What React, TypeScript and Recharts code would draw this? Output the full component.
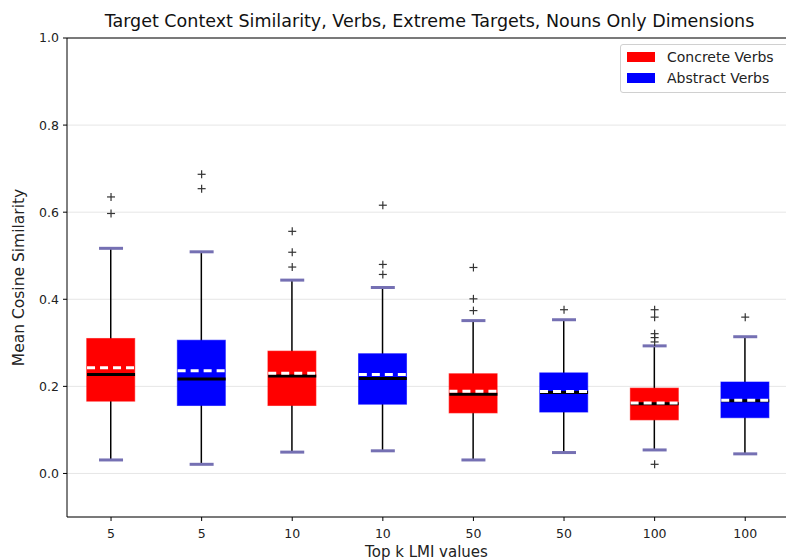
import { ComposedChart, Bar, Scatter, XAxis, YAxis, CartesianGrid, ReferenceLine, Label } from "recharts";

const tickLabels = ["5", "5", "10", "10", "50", "50", "100", "100"];
const seriesNames = ["Concrete Verbs", "Abstract Verbs"];
const seriesColors = ["#ff0000", "#0000ff"];

const whiskerLow = [0.031, 0.021, 0.049, 0.052, 0.031, 0.048, 0.054, 0.045];
const q1 = [0.166, 0.156, 0.156, 0.159, 0.139, 0.141, 0.123, 0.128];
const median = [0.227, 0.217, 0.224, 0.218, 0.182, 0.186, 0.16, 0.167];
const mean = [0.243, 0.236, 0.23, 0.227, 0.189, 0.188, 0.162, 0.168];
const q3 = [0.31, 0.306, 0.281, 0.275, 0.229, 0.231, 0.196, 0.21];
const whiskerHigh = [0.517, 0.509, 0.444, 0.427, 0.351, 0.353, 0.293, 0.314];
const outliers = [
  [0.635, 0.597],
  [0.687, 0.654],
  [0.556, 0.508, 0.474],
  [0.616, 0.48, 0.457],
  [0.473, 0.401, 0.374],
  [0.376],
  [0.376, 0.359, 0.321, 0.312, 0.302, 0.021],
  [0.359],
];

const data = tickLabels.map((_, i) => ({
  x: i,
  lo: whiskerLow[i],
  q1: q1[i],
  med: median[i],
  mean: mean[i],
  q3: q3[i],
  hi: whiskerHigh[i],
  color: seriesColors[i % 2],
}));

const fliers = outliers.flatMap((vals, i) => vals.map((v) => ({ x: i, y: v })));

const FONT = "DejaVu Sans, sans-serif";
const CAP = "#7570b3";

const WhiskerShape = (p: any) => {
  const cx = p.x + p.width / 2;
  return <line x1={cx} x2={cx} y1={p.y} y2={p.y + p.height} stroke="#000" strokeWidth={1.5} />;
};

const BoxShape = (p: any) => (
  <rect x={p.x} y={p.y} width={p.width} height={p.height} fill={p.payload.color} stroke={p.payload.color} strokeOpacity={0.6} strokeWidth={1} />
);

const capShape = (p: any) => (
  <line x1={p.cx - 12} x2={p.cx + 12} y1={p.cy} y2={p.cy} stroke={CAP} strokeWidth={3} />
);

const medianShape = (p: any) => (
  <line x1={p.cx - 24} x2={p.cx + 24} y1={p.cy} y2={p.cy} stroke="#000" strokeWidth={3} />
);

const meanShape = (p: any) => (
  <line x1={p.cx - 24} x2={p.cx + 24} y1={p.cy} y2={p.cy} stroke="#fff" strokeWidth={3} strokeDasharray="8 5" />
);

const plusShape = (p: any) => (
  <g stroke="#333" strokeWidth={1.2}>
    <line x1={p.cx - 4} x2={p.cx + 4} y1={p.cy} y2={p.cy} />
    <line x1={p.cx} x2={p.cx} y1={p.cy - 4} y2={p.cy + 4} />
  </g>
);

const LegendBox = () => (
  <div
    style={{
      position: "absolute",
      left: 620,
      top: 44,
      width: 161,
      height: 46,
      border: "1px solid #d0d0d0",
      borderRadius: 3,
      background: "#fff",
      padding: "1px 0 0 6px",
      fontFamily: FONT,
      fontSize: 14,
      color: "#222",
      boxSizing: "content-box",
    }}
  >
    {seriesNames.map((n, i) => (
      <div key={n} style={{ display: "flex", alignItems: "center", height: 21 }}>
        <span style={{ width: 28, height: 10, background: seriesColors[i], marginRight: 12 }} />
        {n}
      </div>
    ))}
  </div>
);

export default function App() {
  return (
    <div style={{ position: "absolute", left: 0, top: 0, width: 786, height: 560, background: "#fff", overflow: "hidden" }}>
      <div
        style={{
          position: "absolute",
          top: 11,
          left: 67,
          width: 725,
          textAlign: "center",
          fontFamily: FONT,
          fontSize: 17.5,
          color: "#111",
        }}
      >
        Target Context Similarity, Verbs, Extreme Targets, Nouns Only Dimensions
      </div>
      <ComposedChart width={786} height={560} data={data} margin={{ top: 38, right: 0, bottom: 0, left: 17 }}>
        <CartesianGrid vertical={false} stroke="#e6e6e6" />
        <XAxis
          xAxisId="a"
          dataKey="x"
          type="number"
          domain={[-0.486, 7.45]}
          allowDataOverflow
          ticks={[0, 1, 2, 3, 4, 5, 6, 7]}
          tickFormatter={(v) => tickLabels[v]}
          height={43}
          stroke="#000"
          tickSize={4}
          tickMargin={8}
          tick={{ fill: "#222", fontSize: 12.5, fontFamily: FONT }}
        >
          <Label value="Top k LMI values" position="insideBottom" offset={3} style={{ fill: "#222", fontSize: 15, fontFamily: FONT }} />
        </XAxis>
        <XAxis xAxisId="b" dataKey="x" type="number" domain={[-0.486, 7.45]} allowDataOverflow hide />
        <YAxis
          type="number"
          domain={[-0.1, 1.0]}
          ticks={[0, 0.2, 0.4, 0.6, 0.8, 1.0]}
          allowDataOverflow
          tickFormatter={(v) => v.toFixed(1)}
          width={50}
          stroke="#000"
          tickSize={4}
          tickMargin={4}
          tick={{ fill: "#222", fontSize: 12.5, fontFamily: FONT }}
        >
          <Label value="Mean Cosine Similarity" angle={-90} position="insideLeft" offset={1} style={{ textAnchor: "middle", fill: "#222", fontSize: 15.5, fontFamily: FONT }} />
        </YAxis>
        <ReferenceLine xAxisId="a" y={1.0} stroke="#000" />
        <Bar xAxisId="a" dataKey={(d: any) => [d.lo, d.hi]} barSize={48} shape={WhiskerShape} isAnimationActive={false} legendType="none" />
        <Bar xAxisId="b" dataKey={(d: any) => [d.q1, d.q3]} barSize={48} shape={BoxShape} isAnimationActive={false} legendType="none" />
        <Scatter xAxisId="a" dataKey="hi" shape={capShape} isAnimationActive={false} legendType="none" />
        <Scatter xAxisId="a" dataKey="lo" shape={capShape} isAnimationActive={false} legendType="none" />
        <Scatter xAxisId="a" dataKey="med" shape={medianShape} isAnimationActive={false} legendType="none" />
        <Scatter xAxisId="a" dataKey="mean" shape={meanShape} isAnimationActive={false} legendType="none" />
        <Scatter xAxisId="a" data={fliers} dataKey="y" shape={plusShape} isAnimationActive={false} legendType="none" />
      </ComposedChart>
      <LegendBox />
    </div>
  );
}
